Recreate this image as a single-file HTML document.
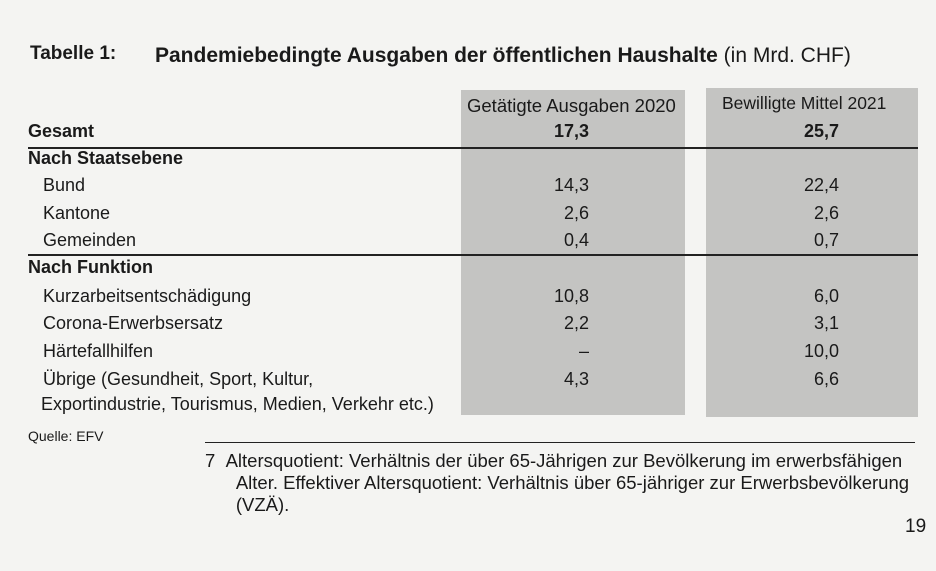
<!DOCTYPE html>
<html><head><meta charset="utf-8"><style>
body{margin:0;width:936px;height:571px;background:#f4f4f2;position:relative;overflow:hidden;font-family:"Liberation Sans",sans-serif;color:#1a1a1a}
.t{position:absolute;white-space:nowrap;font-size:18px;line-height:1}
.b{font-weight:bold}
.col{position:absolute;background:#c4c4c2}
.ln{position:absolute;height:1.5px;background:#222}
.r{text-align:right;width:90px}
</style></head><body>
<div class="t b" style="left:30px;top:44px;font-size:19px">Tabelle 1:</div>
<div class="t" style="left:155px;top:45px;font-size:21px"><b>Pandemiebedingte Ausgaben der öffentlichen Haushalte</b> (in Mrd. CHF)</div>
<div class="col" style="left:461px;top:90px;width:224px;height:325px"></div>
<div class="col" style="left:706px;top:88px;width:212px;height:329px"></div>
<div class="t" style="left:467px;top:97px;font-size:18.5px">Getätigte Ausgaben 2020</div>
<div class="t" style="left:722px;top:95px;font-size:17.5px">Bewilligte Mittel 2021</div>
<div class="ln" style="left:28px;top:147px;width:890px"></div>
<div class="ln" style="left:28px;top:254px;width:890px"></div>
<div id="rows"></div>
<div class="t" style="left:28px;top:429px;font-size:14px">Quelle: EFV</div>
<div class="ln" style="left:205px;top:442px;width:710px;height:1px"></div>
<div class="t" style="left:205px;top:450px;font-size:18.5px;line-height:22px">7&nbsp;&nbsp;Altersquotient: Verhältnis der über 65-Jährigen zur Bevölkerung im erwerbsfähigen<br>&nbsp;&nbsp;&nbsp;&nbsp;&nbsp;&nbsp;Alter. Effektiver Altersquotient: Verhältnis über 65-jähriger zur Erwerbsbevölkerung<br>&nbsp;&nbsp;&nbsp;&nbsp;&nbsp;&nbsp;(VZÄ).</div>
<div class="t" style="left:905px;top:517px;font-size:19px">19</div>
<script>
const labels=["Gesamt","Nach Staatsebene","Bund","Kantone","Gemeinden","Nach Funktion","Kurzarbeitsentschädigung","Corona-Erwerbsersatz","Härtefallhilfen","Übrige (Gesundheit, Sport, Kultur,"];
const v2020=["17,3","","14,3","2,6","0,4","","10,8","2,2","–","4,3"];
const v2021=["25,7","","22,4","2,6","0,7","","6,0","3,1","10,0","6,6"];
const bold=[1,1,0,0,0,1,0,0,0,0];
const tops=[122,149,176,204,231,258,287,314,342,370];
const c=document.getElementById('rows');
function add(txt,l,t,cls,name){const d=document.createElement('div');d.className='t '+cls;d.style.left=l+'px';d.style.top=t+'px';d.textContent=txt;


c.appendChild(d);}
labels.forEach((s,i)=>{
 add(s,bold[i]?28:43,tops[i],bold[i]?'b':'', 'row-label');
 if(v2020[i])add(v2020[i],499,tops[i],'r'+(i==0?' b':''),'value-2020');
 if(v2021[i])add(v2021[i],749,tops[i],'r'+(i==0?' b':''),'value-2021');
});
add("Exportindustrie, Tourismus, Medien, Verkehr etc.)",41,395,'','row-label-continued');
</script>
</body></html>
